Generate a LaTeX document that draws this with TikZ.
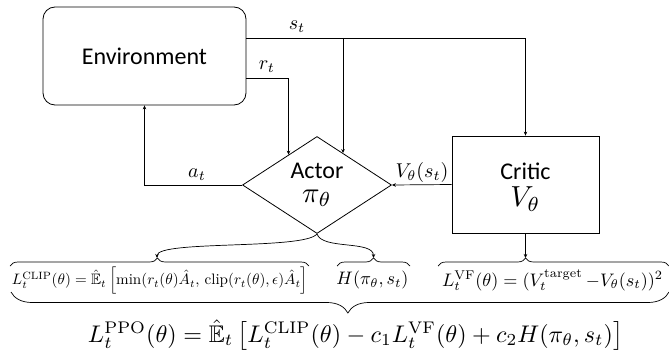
\documentclass[tikz,border=0pt]{standalone}
\usepackage{amsmath,amssymb}
\usepackage{graphicx}
\usepackage{fontspec}
\setsansfont{Carlito}
\usetikzlibrary{shapes.geometric,arrows.meta,decorations.pathreplacing,calc}
\begin{document}
\begin{tikzpicture}[x=1pt,y=-1pt,
  line/.style={line width=0.7pt},
  arr/.style={line, -{Stealth[length=4pt,width=3.5pt]}},
  box/.style={draw, line width=0.8pt, inner sep=0pt},
  lbl/.style={inner sep=0pt},
  word/.style={font=\sffamily\fontsize{24}{28}\selectfont, inner sep=0pt},
  sym/.style={inner sep=0pt},
  brc/.style={line width=0.7pt, decorate},
  formula/.style={inner sep=0pt}
]
\useasboundingbox (0,0) rectangle (669,353);
% blocks
\node[box, rounded corners=12pt, minimum width=203pt, minimum height=98pt,
      word] (env) at (144.5,56) {Environment};
\node[box, diamond, minimum width=149pt, minimum height=97pt] (actor) at (317,185) {};
\node[word] (actorname) at (317,171) {Actor};
\node[sym] (actorpi) at (317,198) {\scalebox{2.9}{$\pi_\theta$}};
\node[box, minimum width=147pt, minimum height=97pt] (critic) at (525.5,184.5) {};
\node[word] (criticname) at (525.5,171) {Critic};
\node[sym] (criticv) at (525.5,199) {\scalebox{2.9}{$V_\theta$}};
% helper coordinates
\coordinate (sy) at (0,38);
\coordinate (ry) at (0,78);
\coordinate (sb) at (343,38);
\coordinate (sbend) at ($(actor.north)!0.347!(actor.east)$);
\coordinate (rend) at ($(actor.west)!0.62!(actor.north)$);
% connectors
\draw[arr] (env.east |- sy) -| (critic.north);
\draw[arr] (sb) -- (sb |- sbend);
\draw[arr] (env.east |- ry) -| (rend);
\draw[arr] (actor.west) -| (env.south);
\draw[arr] (critic.west) -- (actor.east);
% labels
\node[lbl] (slbl) at (297,27) {\scalebox{2}{$s_t$}};
\node[lbl] (rlbl) at (267,67) {\scalebox{2}{$r_t$}};
\node[lbl] (albl) at (197,175) {\scalebox{2}{$a_t$}};
\node[lbl] (vlbl) at (422,172) {\scalebox{2}{$V_\theta(s_t)$}};
% loss terms
\node[formula] (clip) at (160,281) {\resizebox{296pt}{!}{$L_t^{\mathrm{CLIP}}(\theta)=\hat{\mathbb{E}}_t\left[\min(r_t(\theta)\hat{A}_t,\,\mathrm{clip}(r_t(\theta),\epsilon)\hat{A}_t\right]$}};
\node[formula] (ent) at (372.5,280) {\resizebox{72pt}{!}{$H(\pi_\theta,s_t)$}};
\node[formula] (vf) at (552.5,280) {\resizebox{221pt}{!}{$L_t^{\mathrm{VF}}(\theta)=(V_t^{\mathrm{target}}\,{-}V_\theta(s_t))^2$}};
\node[formula] (ppo) at (355.5,335) {\resizebox{535pt}{!}{$L_t^{\mathrm{PPO}}(\theta)=\hat{\mathbb{E}}_t\left[L_t^{\mathrm{CLIP}}(\theta)-c_1L_t^{\mathrm{VF}}(\theta)+c_2H(\pi_\theta,s_t)\right]$}};
% braces
\draw[brc, decoration={brace, amplitude=8pt, aspect=0.493}] (10,266) -- (309,266);
\draw[brc, decoration={brace, amplitude=8pt}] (337,266) -- (410,266);
\draw[brc, decoration={brace, amplitude=8pt, aspect=0.379}] (438,266) -- (669,266);
\draw[brc, decoration={brace, mirror, amplitude=21pt, aspect=0.512}] (11,292) -- (669,292);
\coordinate (cliptip) at (157,258);
\coordinate (enttip) at (373.5,258);
\coordinate (vftip) at (525.5,258);
% arrows to loss terms
\draw[arr] (actor.south) .. controls (305,250) and (157,240) .. (cliptip);
\draw[arr] (actor.south) .. controls (322,250) and (373.5,240) .. (enttip);
\draw[arr] (critic.south) -- (vftip);
\end{tikzpicture}
\end{document}
